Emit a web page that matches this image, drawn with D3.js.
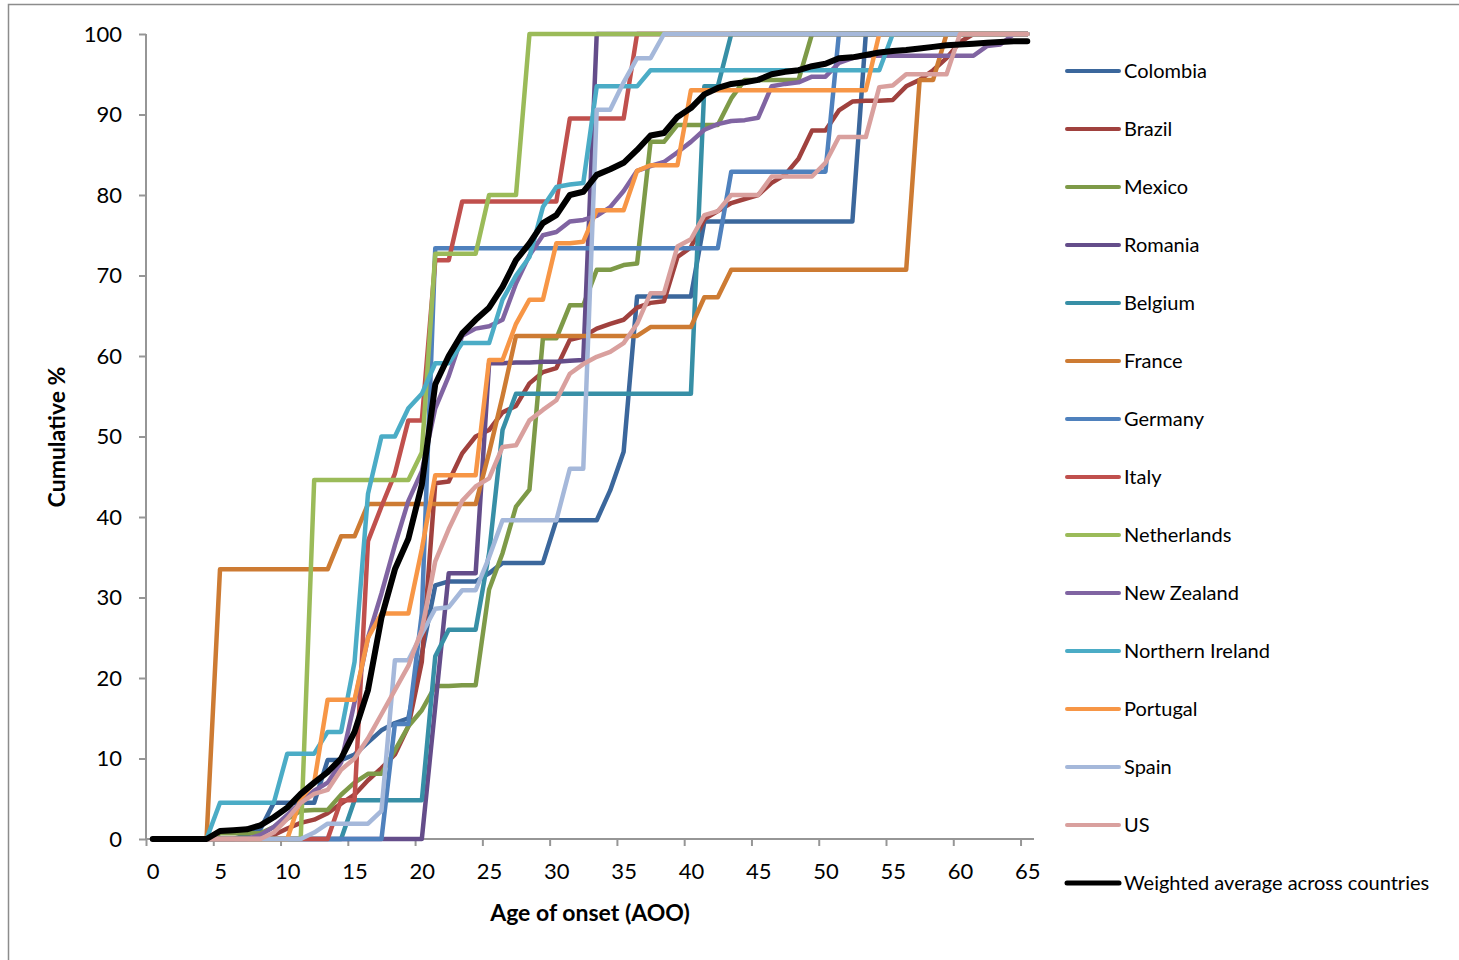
<!DOCTYPE html>
<html>
<head>
<meta charset="utf-8">
<script src="https://cdn.jsdelivr.net/npm/d3@7"></script>
<style>
  body { margin: 0; background: #fff; }
  text { font-family: Lato, "Open Sans", sans-serif; fill: #000; }
  .axis path, .axis line { stroke: #969696; stroke-width: 2; }
  .axis text { font-size: 22px; }
</style>
</head>
<body>
<div id="chart"></div>
<script>
// 1: DATA (cumulative %, one value per age 0..65)
const ages = d3.range(0, 66);
const xLabels = [0, 5, 10, 15, 20, 25, 30, 35, 40, 45, 50, 55, 60, 65];
const yTicks = [0, 10, 20, 30, 40, 50, 60, 70, 80, 90, 100];

const colombia = [0,0,0,0,0,0,0,0.5,1.2,4.5,4.5,4.5,4.5,9.8,9.8,10.5,12,13.5,14.4,15,23,31.5,32,32,32,33,34.3,34.3,34.3,34.3,39.6,39.6,39.6,39.6,43.3,48.1,67.4,67.4,67.4,67.4,67.4,76.7,76.7,76.7,76.7,76.7,76.7,76.7,76.7,76.7,76.7,76.7,76.7,100,100,100,100,100,100,100,100,100,100,100,100,100];
const brazil = [0,0,0,0,0,0,0,0,0,0.5,1.3,2,2.4,3.2,4.4,5.5,7.3,8.8,10.5,14,22,44.2,44.4,47.9,50,50.8,53,53.8,56.6,58,58.5,62,62.4,63.4,64,64.5,66,66.6,66.8,72.3,73.5,77,78,79,79.5,80,81.5,82.5,84.5,88,88,90.5,91.6,91.7,91.7,91.8,93.5,94.3,95.5,97,99,100,100,100,100,100];
const mexico = [0,0,0,0,0,0.7,0.7,0.7,0.7,1.5,2.5,3.5,3.6,3.6,5.5,7,8.1,8.1,11,14,16,19,19,19.1,19.1,31,35.5,41.3,43.4,62.2,62.2,66.3,66.3,70.7,70.7,71.3,71.5,86.6,86.6,88.7,88.7,88.7,88.7,92,94.3,94.3,94.3,94.3,94.3,100,100,100,100,100,100,100,100,100,100,100,100,100,100,100,100,100];
const romania = [0,0,0,0,0,0,0,0,0,0,0,0,0,0,0,0,0,0,0,0,0,16.5,33,33,33,59.1,59.1,59.2,59.2,59.3,59.3,59.4,59.5,100,100,100,100,100,100,100,100,100,100,100,100,100,100,100,100,100,100,100,100,100,100,100,100,100,100,100,100,100,100,100,100,100];
const belgium = [0,0,0,0,0,0,0,0,0,0,0,0,0,0,0,4.8,4.8,4.8,4.8,4.8,4.8,22.7,26,26,26,35.5,50.8,55.3,55.3,55.3,55.3,55.3,55.3,55.3,55.3,55.3,55.3,55.3,55.3,55.3,55.3,93.5,93.5,100,100,100,100,100,100,100,100,100,100,100,100,100,100,100,100,100,100,100,100,100,100,100];
const france = [0,0,0,0,0,33.5,33.5,33.5,33.5,33.5,33.5,33.5,33.5,33.5,37.6,37.6,41.6,41.6,41.6,41.6,41.6,41.6,41.6,41.6,41.6,48,55,62.5,62.5,62.5,62.5,62.5,62.5,62.5,62.5,62.5,62.5,63.6,63.6,63.6,63.6,67.3,67.3,70.7,70.7,70.7,70.7,70.7,70.7,70.7,70.7,70.7,70.7,70.7,70.7,70.7,70.7,94.3,94.3,100,100,100,100,100,100,100];
const germany = [0,0,0,0,0,0,0,0,0,0,0,0,0,0,0,0,0,0,14.3,14.3,28,73.4,73.4,73.4,73.4,73.4,73.4,73.4,73.4,73.4,73.4,73.4,73.4,73.4,73.4,73.4,73.4,73.4,73.4,73.4,73.4,73.4,73.4,82.9,82.9,82.9,82.9,82.9,82.9,82.9,82.9,100,100,100,100,100,100,100,100,100,100,100,100,100,100,100];
const italy = [0,0,0,0,0,0,0,0,0,0,0,0,0,0,4.8,4.8,37,41.3,45.4,52,52,71.9,71.9,79.2,79.2,79.2,79.2,79.2,79.2,79.2,79.2,89.5,89.5,89.5,89.5,89.5,100,100,100,100,100,100,100,100,100,100,100,100,100,100,100,100,100,100,100,100,100,100,100,100,100,100,100,100,100,100];
const netherlands = [0,0,0,0,0,0,0,0,0,0,0,0,44.6,44.6,44.6,44.6,44.6,44.6,44.6,44.6,48,72.7,72.7,72.7,72.7,80,80,80,100,100,100,100,100,100,100,100,100,100,100,100,100,100,100,100,100,100,100,100,100,100,100,100,100,100,100,100,100,100,100,100,100,100,100,100,100,100];
const newZealand = [0,0,0,0,0,0,0,0,0.5,1.5,3,4.5,6,7,9.5,17,25,30.5,36.5,42,45.7,53.5,57.5,62.5,63.4,63.7,64.5,69,72.5,75,75.4,76.7,76.9,77.4,78.5,80.5,83,83.6,84.1,85.3,86.6,88.1,88.8,89.2,89.3,89.6,93.5,93.8,94,94.7,94.7,96.4,97,97.3,97.3,97.3,97.3,97.3,97.3,97.3,97.3,97.3,98.5,98.7,100,100];
const northernIreland = [0,0,0,0,0,4.5,4.5,4.5,4.5,4.5,10.6,10.6,10.6,13.3,13.3,22,42.9,50,50,53.5,55.3,59.1,59.1,61.6,61.6,61.6,67,70,72.3,78.5,81,81.3,81.5,93.5,93.5,93.5,93.5,95.5,95.5,95.5,95.5,95.5,95.5,95.5,95.5,95.5,95.5,95.5,95.5,95.5,95.5,95.5,95.5,95.5,95.5,100,100,100,100,100,100,100,100,100,100,100];
const portugal = [0,0,0,0,0,0,0,0,0,0,0,5,7,17.3,17.3,17.3,25,28,28,28,36,45.2,45.2,45.2,45.2,59.5,59.5,64,67,67,74,74,74.2,78.1,78.1,78.1,83,83.7,83.7,83.7,93,93,93,93,93,93,93,93,93,93,93,93,93,93,100,100,100,100,100,100,100,100,100,100,100,100];
const spain = [0,0,0,0,0,0,0,0,0,0,0,0,0.8,1.9,1.9,1.9,1.9,3.5,22.2,22.2,25.5,28.6,28.8,30.9,30.9,35,39.6,39.6,39.6,39.6,39.6,46,46,90.6,90.6,94,97,97,100,100,100,100,100,100,100,100,100,100,100,100,100,100,100,100,100,100,100,100,100,100,100,100,100,100,100,100];
const us = [0,0,0,0,0,0,0,0,0,0.8,2.5,4.5,5.6,6.1,8.6,10,12.5,15.5,18.5,21.5,26,34.5,38.5,42,43.8,44.8,48.7,48.9,52,53.3,54.5,57.8,59,59.9,60.5,61.6,64,67.8,67.8,73.6,74.5,77.5,78,80,80,80,82.3,82.3,82.3,82.3,84,87.2,87.2,87.2,93.4,93.6,95,95,95,95,100,100,100,100,100,100];
const weighted = [0,0,0,0,0,1,1.1,1.2,1.7,2.7,3.9,5.6,7,8.3,10,13.3,18.5,27.5,33.5,37.3,44,56.5,60,62.8,64.5,66,68.6,71.9,74,76.5,77.5,80,80.4,82.5,83.2,84,85.6,87.4,87.7,89.7,90.8,92.5,93.3,93.8,94,94.3,95,95.3,95.5,96,96.3,97,97.1,97.4,97.7,97.9,98,98.2,98.4,98.6,98.7,98.8,98.9,99,99.1,99.1];

const seriesNames = ["Colombia", "Brazil", "Mexico", "Romania", "Belgium", "France", "Germany", "Italy",
    "Netherlands", "New Zealand", "Northern Ireland", "Portugal", "Spain", "US", "Weighted average across countries"];
const seriesValues = [colombia, brazil, mexico, romania, belgium, france, germany, italy,
    netherlands, newZealand, northernIreland, portugal, spain, us, weighted];
const seriesColors = ["#3B679C", "#A0413E", "#7E9A48", "#644D8A", "#378FA6", "#CD7B33", "#4F81BD", "#C0504D",
    "#9BBB59", "#8064A2", "#4BACC6", "#F79646", "#A5B8DA", "#D9A09E", "#000000"];

const series = seriesNames.map((name, i) => ({
    name: name,
    color: seriesColors[i],
    points: ages.map((a, j) => ({ age: a, value: seriesValues[i][j] }))
}));

// 2: LAYOUT
const margin = { top: 34, left: 146 };
const width = 888;
const height = 805;

const svgRoot = d3.select("#chart")
    .append("svg")
    .attr("width", 1459)
    .attr("height", 960);

// outer chart border
svgRoot.append("rect")
    .attr("x", 8.5)
    .attr("y", 4.5)
    .attr("width", 1470)
    .attr("height", 980)
    .attr("fill", "none")
    .attr("stroke", "#8c8c8c")
    .attr("stroke-width", 1.5);

const svg = svgRoot.append("g")
    .attr("transform", `translate(${margin.left},${margin.top})`);

// 3: SCALES (categories sit between tick marks, like the original)
const xScale = d3.scaleLinear()
    .domain([-0.5, 65.5])
    .range([0, width]);

const yScale = d3.scaleLinear()
    .domain([0, 100])
    .range([height, 0]);

// 4: AXES
svg.append("g")
    .attr("class", "axis")
    .call(d3.axisLeft(yScale).tickValues(yTicks).tickSize(7).tickPadding(17))
    .call(g => g.select(".domain").attr("d", `M0,0V${height}`));

// x tick marks at category boundaries
svg.append("g")
    .attr("class", "axis")
    .attr("transform", `translate(0,${height})`)
    .call(d3.axisBottom(xScale).tickValues(xLabels.map(d => d - 0.5)).tickSize(7).tickFormat(""))
    .call(g => g.select(".domain").attr("d", `M0,0H${width}`));

// x labels centred on categories
svg.append("g")
    .attr("class", "axis")
    .attr("transform", `translate(0,${height})`)
    .call(d3.axisBottom(xScale).tickValues(xLabels).tickSize(0).tickPadding(24))
    .call(g => g.select(".domain").remove());

// 5: LINES
const line = d3.line()
    .x(d => xScale(d.age))
    .y(d => yScale(d.value));

svg.selectAll(".series")
    .data(series)
    .enter()
    .append("path")
    .attr("class", "series")
    .attr("d", d => line(d.points))
    .attr("fill", "none")
    .attr("stroke", d => d.color)
    .attr("stroke-width", d => d.name.startsWith("Weighted") ? 6 : 4.5)
    .attr("stroke-linejoin", "round")
    .attr("stroke-linecap", "round");

// 6: LABELS
svgRoot.append("text")
    .attr("x", 590)
    .attr("y", 921)
    .attr("text-anchor", "middle")
    .style("font-size", "23px")
    .style("font-weight", "bold")
    .text("Age of onset (AOO)");

svgRoot.append("text")
    .attr("transform", "rotate(-90)")
    .attr("x", -437)
    .attr("y", 65)
    .attr("text-anchor", "middle")
    .style("font-size", "23px")
    .style("font-weight", "bold")
    .text("Cumulative %");

// legend
const legend = svgRoot.selectAll(".legend")
    .data(series)
    .enter()
    .append("g")
    .attr("class", "legend")
    .attr("transform", (d, i) => `translate(1067, ${71 + i * 58})`);

legend.append("line")
    .attr("x1", 0)
    .attr("x2", 52)
    .attr("stroke", d => d.color)
    .attr("stroke-width", d => d.name.startsWith("Weighted") ? 5 : 4)
    .attr("stroke-linecap", "round");

legend.append("text")
    .attr("x", 57)
    .attr("y", 7)
    .style("font-size", "20px")
    .text(d => d.name);
</script>
</body>
</html>
